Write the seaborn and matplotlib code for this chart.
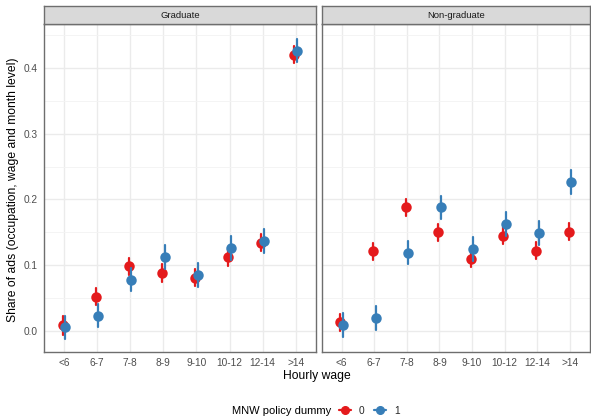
import numpy as np
import pandas as pd
import matplotlib
matplotlib.use("Agg")
import matplotlib.pyplot as plt
from matplotlib.lines import Line2D
from matplotlib.ticker import MultipleLocator
import seaborn as sns

# ---- data ----
wage_cats = ["<6", "6-7", "7-8", "8-9", "9-10", "10-12", "12-14", ">14"]
panels = ["Graduate", "Non-graduate"]
dummy_levels = ["0", "1"]

grad_share_0 = [0.008, 0.052, 0.098, 0.088, 0.081, 0.112, 0.134, 0.421]
grad_share_1 = [0.005, 0.023, 0.078, 0.112, 0.085, 0.126, 0.137, 0.427]
grad_err_0 = [0.014, 0.013, 0.013, 0.013, 0.013, 0.013, 0.013, 0.013]
grad_err_1 = [0.018, 0.018, 0.018, 0.018, 0.018, 0.018, 0.018, 0.018]

nongrad_share_0 = [0.013, 0.121, 0.188, 0.150, 0.110, 0.145, 0.122, 0.151]
nongrad_share_1 = [0.009, 0.019, 0.119, 0.188, 0.125, 0.163, 0.149, 0.227]
nongrad_err_0 = [0.013, 0.013, 0.013, 0.013, 0.013, 0.013, 0.013, 0.013]
nongrad_err_1 = [0.018, 0.018, 0.018, 0.018, 0.018, 0.018, 0.018, 0.018]

series = {
    ("Graduate", "0"): (grad_share_0, grad_err_0),
    ("Graduate", "1"): (grad_share_1, grad_err_1),
    ("Non-graduate", "0"): (nongrad_share_0, nongrad_err_0),
    ("Non-graduate", "1"): (nongrad_share_1, nongrad_err_1),
}

rows = []
for (panel, lvl), (vals, errs) in series.items():
    for cat, v, e in zip(wage_cats, vals, errs):
        # lower and upper bound rows: mean = estimate, full range = interval
        rows.append(dict(panel=panel, dummy=lvl, wage=cat, share=v - e))
        rows.append(dict(panel=panel, dummy=lvl, wage=cat, share=v + e))
df = pd.DataFrame(rows)

palette = {"0": "#E41A1C", "1": "#377EB8"}

sns.set_style("white")
plt.rcParams["font.family"] = ["Liberation Sans", "DejaVu Sans"]

W, H = 591, 416
fig = plt.figure(figsize=(W / 100, H / 100), dpi=100)

top, bottom = 24, 351.7
strip_top = 6
lefts = [(44, 315.7), (322, 589.5)]

grid_major = "#EBEBEB"
border_col = "#6E6E6E"
tick_fs = 7.3

for i, panel in enumerate(panels):
    x0, x1 = lefts[i]
    ax = fig.add_axes([x0 / W, 1 - bottom / H, (x1 - x0) / W, (bottom - top) / H])
    sub = df[df["panel"] == panel]
    sns.pointplot(
        data=sub, x="wage", y="share", hue="dummy", order=wage_cats,
        hue_order=dummy_levels, palette=palette, estimator="mean",
        errorbar=("pi", 100), dodge=0.08, linestyle="none",
        markersize=5.5, err_kws={"linewidth": 1.6}, ax=ax, legend=False,
    )
    ax.set_xlim(-0.6, 7.6)
    ax.set_ylim(-0.032, 0.4675)
    ax.yaxis.set_major_locator(MultipleLocator(0.1))
    ax.yaxis.set_minor_locator(MultipleLocator(0.05))
    ax.set_axisbelow(True)
    ax.grid(True, which="major", color=grid_major, linewidth=1.0)
    ax.grid(True, which="minor", axis="y", color="#F3F3F3", linewidth=0.6)
    for s in ax.spines.values():
        s.set_visible(True)
        s.set_color(border_col)
        s.set_linewidth(1.0)
    ax.tick_params(axis="both", which="major", length=2.7, width=0.8,
                   color="#333333", labelsize=tick_fs, labelcolor="#4D4D4D", pad=2)
    ax.tick_params(axis="both", which="minor", length=0)
    ax.set_xlabel("")
    ax.set_ylabel("")
    if i == 0:
        ax.set_yticks([0.0, 0.1, 0.2, 0.3, 0.4])
        ax.set_yticklabels(["0.0", "0.1", "0.2", "0.3", "0.4"])
    else:
        ax.tick_params(axis="y", which="both", left=False, labelleft=False)

    # facet strip
    sax = fig.add_axes([x0 / W, 1 - top / H, (x1 - x0) / W, (top - strip_top) / H])
    sax.set_facecolor("#D9D9D9")
    sax.set_xticks([])
    sax.set_yticks([])
    for s in sax.spines.values():
        s.set_color(border_col)
        s.set_linewidth(1.0)
    sax.text(0.5, 0.5, panel, ha="center", va="center", fontsize=6.8,
             color="#1A1A1A", transform=sax.transAxes)

fig.text(317 / W, 1 - 376.5 / H, "Hourly wage", ha="center", va="center",
         fontsize=8.7, color="black")
fig.text(13 / W, 1 - 190 / H, "Share of ads (occupation, wage and month level)",
         ha="center", va="center", rotation=90, fontsize=8.7, color="black")

# legend at bottom
fig.text(232.5 / W, 1 - 410.5 / H, "MNW policy dummy", ha="left", va="center",
         fontsize=8.0, color="black")
handles = [Line2D([], [], color=palette[l], marker="o", markersize=5.5,
                  linewidth=1.6) for l in dummy_levels]
fig.legend(handles, dummy_levels, loc="center left",
           bbox_to_anchor=(338.5 / W, 1 - 410.5 / H), ncol=2, frameon=False,
           fontsize=tick_fs, handlelength=1.2, handletextpad=0.8,
           columnspacing=0.9, borderaxespad=0, borderpad=0)

fig.savefig("out.png", dpi=100)
